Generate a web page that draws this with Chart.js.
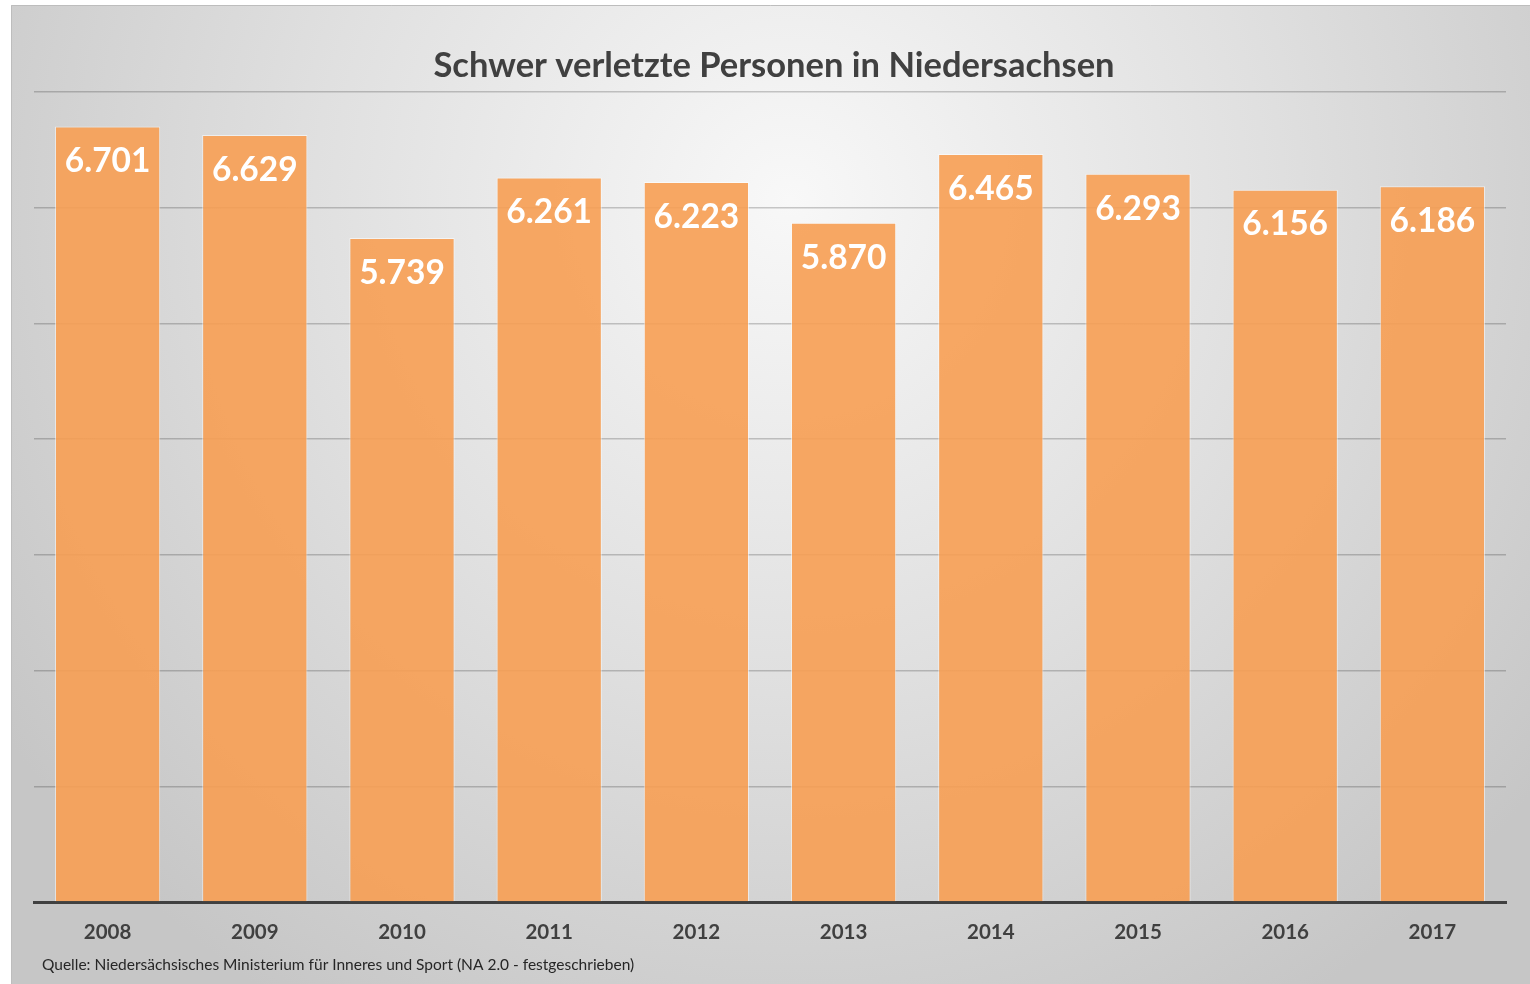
<!DOCTYPE html>
<html lang="de">
<head>
<meta charset="UTF-8">
<title>Schwer verletzte Personen in Niedersachsen</title>
<script src="https://cdn.jsdelivr.net/npm/chart.js"></script>
<style>
  html, body { margin: 0; padding: 0; background: #fff; overflow: hidden; }
  #chart { display: block; }
</style>
</head>
<body>
<canvas id="chart" width="1530" height="984"></canvas>
<script>
// Daten
const jahre = ["2008", "2009", "2010", "2011", "2012", "2013", "2014", "2015", "2016", "2017"];
const verletzte = [6701, 6629, 5739, 6261, 6223, 5870, 6465, 6293, 6156, 6186];
const yMax = 7000;
const yStep = 1000;

const titel = "Schwer verletzte Personen in Niedersachsen";
const quelle = "Quelle: Niedersächsisches Ministerium für Inneres und Sport (NA 2.0 - festgeschrieben)";

const schrift = "Lato, 'Open Sans', sans-serif";

// 6701 -> "6.701"
function zahl(v) {
  return Math.floor(v / 1000) + "." + String(v % 1000).padStart(3, "0");
}

const hintergrund = {
  id: "hintergrund",
  beforeDraw(chart) {
    const ctx = chart.ctx;
    ctx.save();
    ctx.fillStyle = "#fff";
    ctx.fillRect(0, 0, chart.width, chart.height);
    const g = ctx.createRadialGradient(790, 200, 0, 790, 200, 950);
    g.addColorStop(0, "#f8f8f8");
    g.addColorStop(0.5, "#e0e0e0");
    g.addColorStop(1, "#c6c6c6");
    ctx.fillStyle = g;
    ctx.fillRect(11, 5, chart.width - 11, chart.height - 5);
    ctx.strokeStyle = "#bdbdbd";
    ctx.lineWidth = 1;
    ctx.beginPath();
    ctx.moveTo(11.5, chart.height);
    ctx.lineTo(11.5, 5.5);
    ctx.lineTo(chart.width, 5.5);
    ctx.stroke();
    ctx.restore();
  }
};

const beschriftung = {
  id: "beschriftung",
  afterDatasetsDraw(chart) {
    const ctx = chart.ctx;
    const meta = chart.getDatasetMeta(0);
    ctx.save();
    ctx.fillStyle = "#fff";
    ctx.font = "bold 33.5px " + schrift;
    ctx.textAlign = "center";
    ctx.textBaseline = "middle";
    meta.data.forEach((bar, i) => {
      ctx.fillText(zahl(verletzte[i]), bar.x, bar.y + 35);
    });
    ctx.restore();
  },
  afterDraw(chart) {
    const ctx = chart.ctx;
    ctx.save();
    ctx.fillStyle = "#404040";
    ctx.font = "bold 34.5px " + schrift;
    ctx.textAlign = "center";
    ctx.textBaseline = "middle";
    ctx.fillText(titel, 774, 66);
    ctx.fillStyle = "#262626";
    ctx.font = "15.5px " + schrift;
    ctx.textAlign = "left";
    ctx.fillText(quelle, 42, 965);
    ctx.restore();
  }
};

new Chart(document.getElementById("chart"), {
  type: "bar",
  data: {
    labels: jahre,
    datasets: [{
      data: verletzte,
      backgroundColor: "rgba(247,158,83,0.9)",
      borderColor: "rgba(255,255,255,0.55)",
      borderWidth: 1,
      categoryPercentage: 1,
      barPercentage: 0.715
    }]
  },
  options: {
    responsive: false,
    animation: false,
    layout: { padding: { left: 34, right: 24, top: 92, bottom: 22 } },
    plugins: {
      legend: { display: false },
      title: { display: false },
      tooltip: { enabled: false }
    },
    scales: {
      y: {
        min: 0,
        max: yMax,
        ticks: { display: false, stepSize: yStep },
        grid: { color: "rgba(0,0,0,0.2)", lineWidth: 1.5, drawTicks: false },
        border: { display: false },
        afterFit(s) { s.width = 0; }
      },
      x: {
        grid: { display: false, drawTicks: false },
        border: { color: "#404040", width: 3 },
        ticks: {
          color: "#404040",
          font: { family: schrift, size: 20.5, weight: "bold" },
          padding: 18
        },
        afterFit(s) { s.height = 60; }
      }
    }
  },
  plugins: [hintergrund, beschriftung]
});
</script>
</body>
</html>
